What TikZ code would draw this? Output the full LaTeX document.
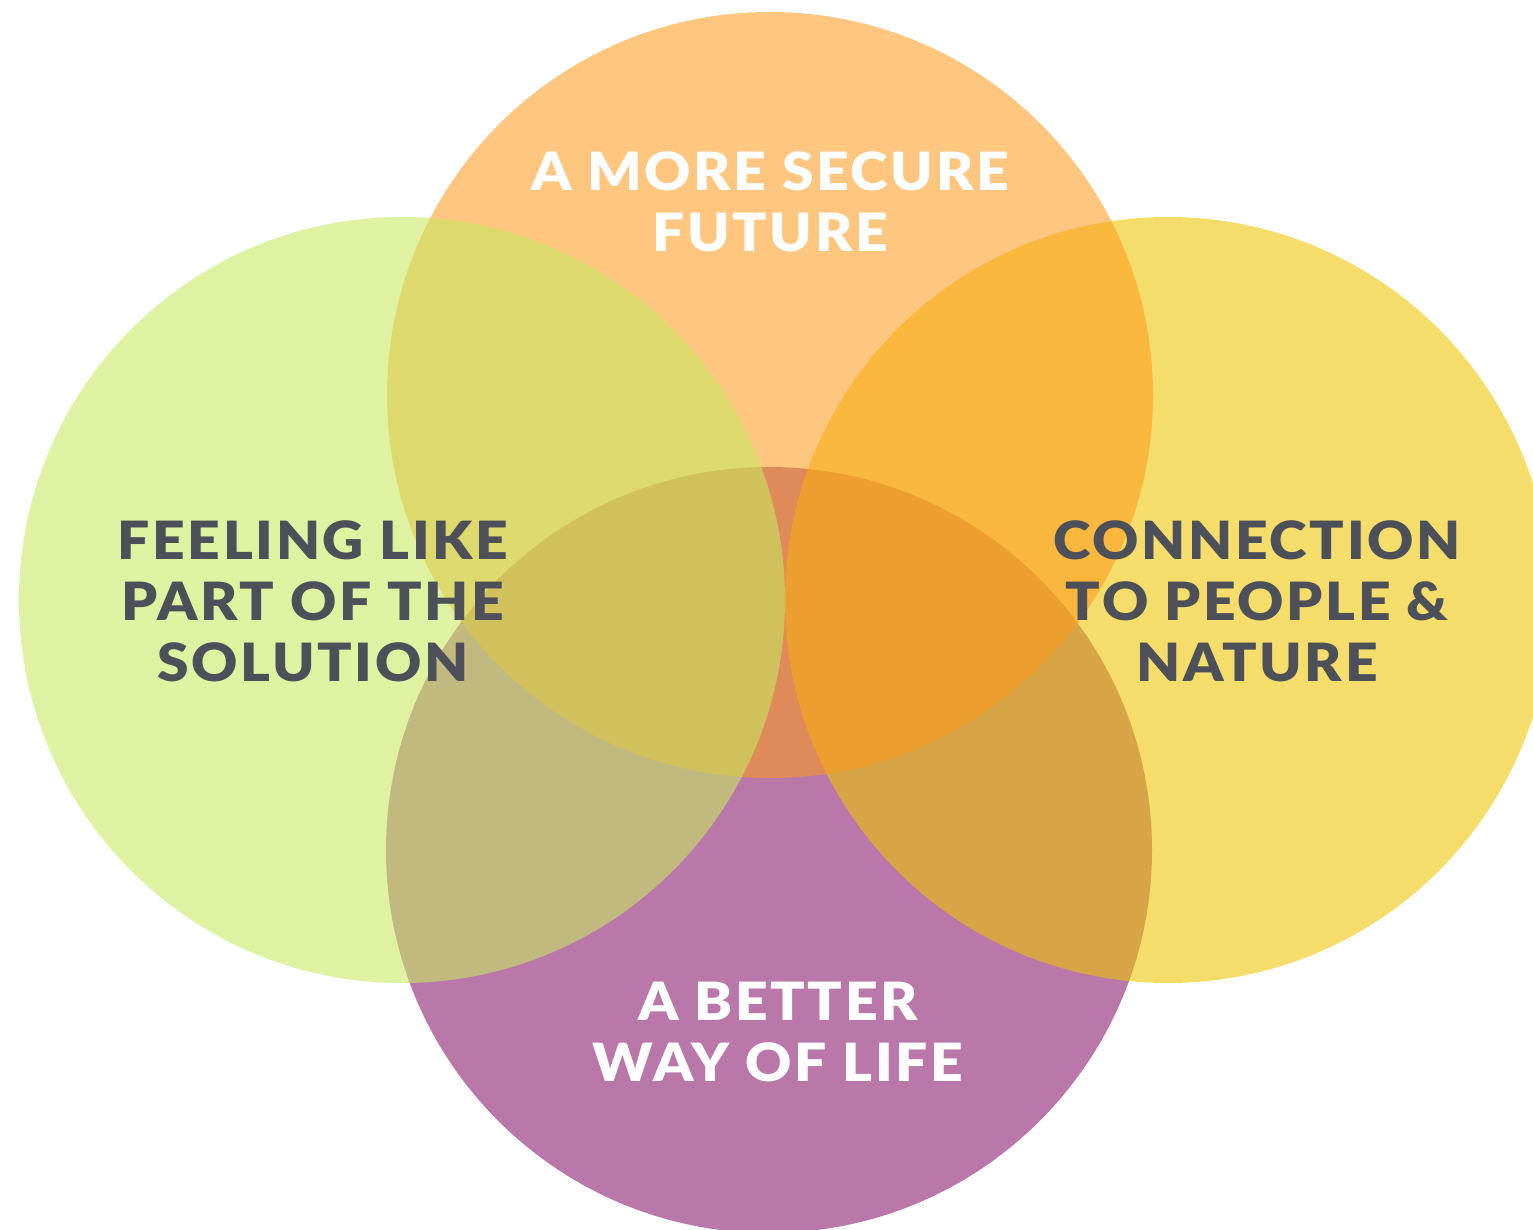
\documentclass[tikz,border=0pt]{standalone}
\usepackage{fontspec}
\setmainfont{Lato}[BoldFont={Lato Black}, FakeStretch=1.08, LetterSpace=5]
\begin{document}
\begin{tikzpicture}[x=1cm,y=1cm,
  petal/.style={circle, minimum size=7.66cm, inner sep=0pt, outer sep=0pt, draw=none},
  label/.style={align=center, font=\bfseries\fontsize{15}{17.4}\selectfont, inner sep=0pt},
  darktext/.style={label, text=inkdark},
  lighttext/.style={label, text=white}]
\definecolor{inkdark}{HTML}{4D5058}
\definecolor{purplefill}{HTML}{B978A9}
\definecolor{yellowfill}{HTML}{EEC500}
\definecolor{orangefill}{HTML}{FD9A1E}
\definecolor{greenfill}{HTML}{C8E95F}
\useasboundingbox (0,0) rectangle (15.33,-12.30);
% circles, back to front
\node[petal, fill=purplefill] (bottom) at (7.69,-8.50) {};
\node[petal, fill=yellowfill, fill opacity=0.58] (right) at (11.68,-6.00) {};
\node[petal, fill=orangefill, fill opacity=0.57] (top) at (7.70,-3.95) {};
\node[petal, fill=greenfill, fill opacity=0.58] (left) at (4.02,-6.00) {};
% labels
\node[lighttext] (toplabel) at (7.70,-2.02) {A MORE SECURE\\FUTURE};
\node[darktext] (leftlabel) at (3.13,-6.01) {FEELING LIKE\\PART OF THE\\SOLUTION};
\node[darktext] (rightlabel) at (12.57,-6.01) {CONNECTION\\TO PEOPLE \&\\NATURE};
\node[lighttext] (bottomlabel) at (7.78,-10.32) {A BETTER\\WAY OF LIFE};
\end{tikzpicture}
\end{document}
